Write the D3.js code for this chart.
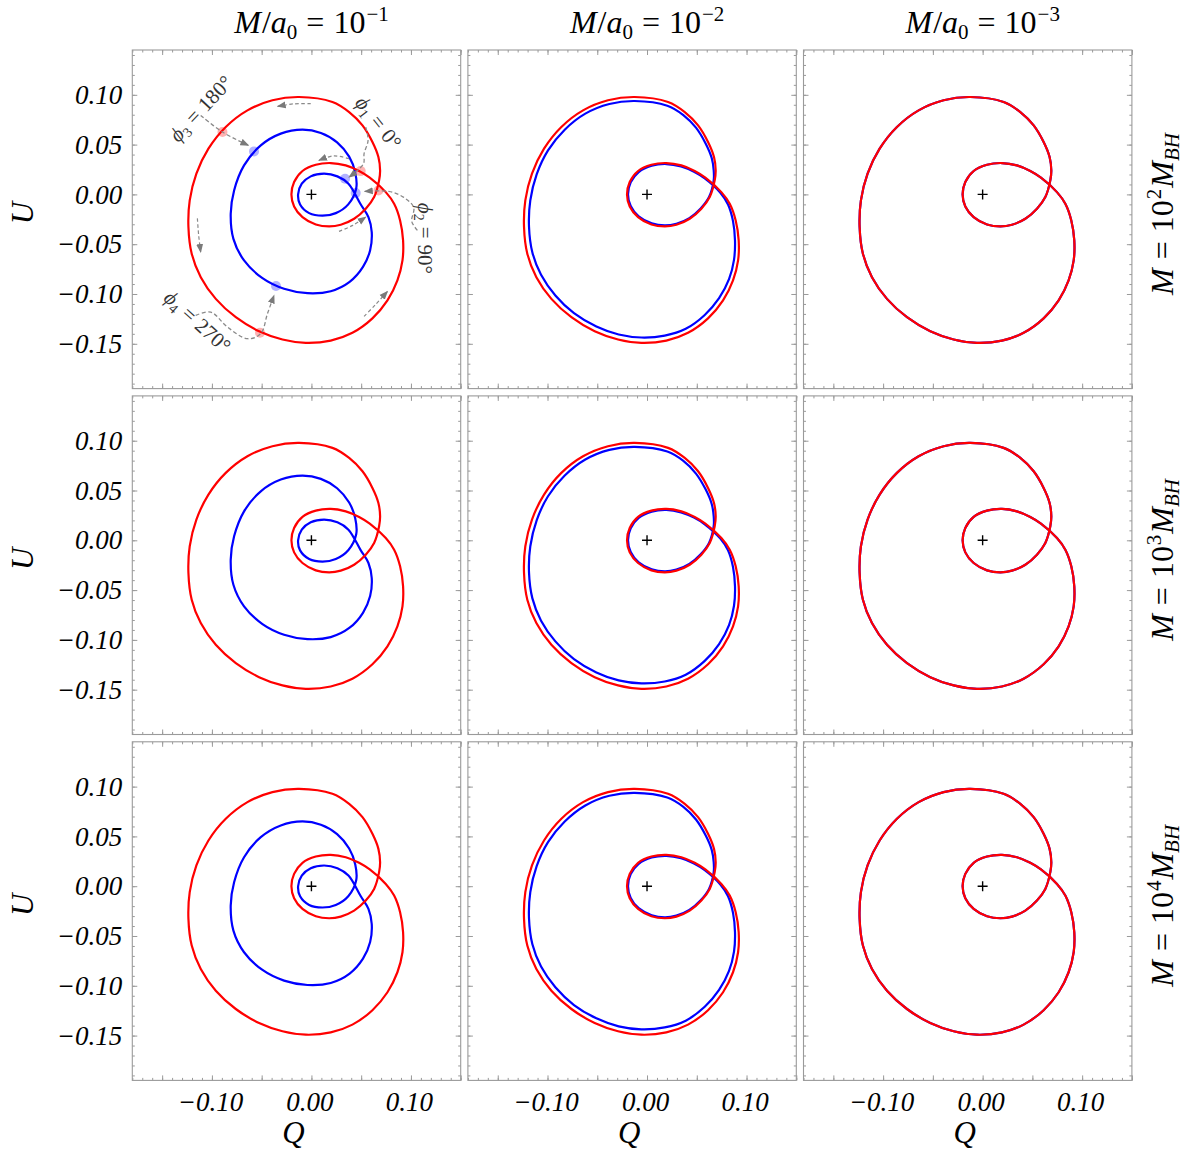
<!DOCTYPE html>
<html><head><meta charset="utf-8">
<script src="https://cdn.jsdelivr.net/npm/d3@7"></script>
<style>body{margin:0;background:#fff}</style>
</head><body>
<svg id="c" width="1190" height="1158"></svg>
<script>
// ---------------- data ----------------
const colExponents = ["−1", "−2", "−3"];          // M/a0 = 10^x
const rowExponents = ["2", "3", "4"];             // M = 10^x M_BH
const xTickLabels = [-0.10, 0.00, 0.10];
const yTickLabels = [0.10, 0.05, 0.00, -0.05, -0.10, -0.15];
const xMajorTicks = [-0.15, -0.10, -0.05, 0.00, 0.05, 0.10, 0.15];
const yMajorTicks = [-0.15, -0.10, -0.05, 0.00, 0.05, 0.10];

// red Q-U loop (same in every panel)
const redLoop = [
 [-0.0124,0.0978],[0.0211,0.0928],[0.0379,0.0827],[0.0513,0.0693],[0.0613,0.0526],[0.0673,0.0375],
 [0.0690,0.0241],[0.0680,0.0141],[0.0630,-0.0027],[0.0546,-0.0144],[0.0429,-0.0245],[0.0295,-0.0305],
 [0.0178,-0.0322],[0.0044,-0.0302],[-0.0090,-0.0228],[-0.0174,-0.0121],[-0.0201,0.0000],[-0.0174,0.0124],
 [-0.0090,0.0235],[0.0044,0.0298],[0.0194,0.0315],[0.0345,0.0291],[0.0479,0.0235],[0.0586,0.0168],
 [0.0747,0.0023],[0.0831,-0.0094],[0.0891,-0.0261],[0.0921,-0.0462],[0.0915,-0.0663],[0.0864,-0.0864],
 [0.0764,-0.1065],[0.0613,-0.1245],[0.0412,-0.1390],[0.0194,-0.1468],[-0.0057,-0.1491],[-0.0291,-0.1457],
 [-0.0526,-0.1374],[-0.0760,-0.1233],[-0.0961,-0.1049],[-0.1112,-0.0831],[-0.1203,-0.0596],[-0.1236,-0.0328],
 [-0.1223,-0.0060],[-0.1156,0.0208],[-0.1035,0.0459],[-0.0861,0.0677],[-0.0643,0.0844],[-0.0392,0.0945]
];
// blue loop, column M/a0 = 10^-1
const blueLoopCol1 = [
 [-0.0090,0.0650],[0.0095,0.0617],[0.0258,0.0523],[0.0379,0.0379],[0.0440,0.0221],[0.0450,0.0060],
 [0.0370,-0.0100],[0.0245,-0.0188],[0.0111,-0.0214],[-0.0023,-0.0188],[-0.0114,-0.0101],[-0.0134,0.0000],
 [-0.0097,0.0107],[-0.0007,0.0181],[0.0127,0.0208],[0.0261,0.0181],[0.0372,0.0107],[0.0496,-0.0101],
 [0.0573,-0.0228],[0.0606,-0.0379],[0.0590,-0.0560],[0.0518,-0.0728],[0.0384,-0.0878],[0.0194,-0.0972],
 [-0.0040,-0.0992],[-0.0275,-0.0948],[-0.0492,-0.0841],[-0.0677,-0.0663],[-0.0784,-0.0446],[-0.0811,-0.0194],
 [-0.0777,0.0040],[-0.0677,0.0291],[-0.0509,0.0492],[-0.0308,0.0610]
];
// blue loop, column M/a0 = 10^-2
const blueLoopCol2 = [
 [-0.0124,0.0938],[0.0204,0.0891],[0.0365,0.0797],[0.0492,0.0670],[0.0590,0.0509],[0.0650,0.0365],
 [0.0670,0.0241],[0.0670,0.0141],[0.0623,-0.0027],[0.0539,-0.0141],[0.0425,-0.0238],[0.0295,-0.0295],
 [0.0178,-0.0312],[0.0047,-0.0291],[-0.0084,-0.0221],[-0.0164,-0.0117],[-0.0191,0.0000],[-0.0164,0.0121],
 [-0.0084,0.0224],[0.0047,0.0288],[0.0194,0.0305],[0.0342,0.0281],[0.0472,0.0228],[0.0580,0.0161],
 [0.0737,0.0017],[0.0814,-0.0101],[0.0864,-0.0268],[0.0884,-0.0462],[0.0874,-0.0657],[0.0824,-0.0851],
 [0.0724,-0.1042],[0.0580,-0.1211],[0.0389,-0.1350],[0.0178,-0.1418],[-0.0057,-0.1437],[-0.0285,-0.1407],
 [-0.0509,-0.1327],[-0.0734,-0.1193],[-0.0921,-0.1015],[-0.1065,-0.0807],[-0.1152,-0.0583],[-0.1186,-0.0322],
 [-0.1173,-0.0060],[-0.1109,0.0201],[-0.0995,0.0442],[-0.0827,0.0650],[-0.0620,0.0811],[-0.0379,0.0908]
];
// blue loop, column M/a0 = 10^-3 : coincides with the red loop
const blueLoopCol3 = redLoop;
const blueLoops = [blueLoopCol1, blueLoopCol2, blueLoopCol3];

// phase markers (top-left panel)
const phaseNames = ["1", "2", "3", "4"];
const phaseAngles = ["0°", "90°", "180°", "270°"];
const redPhasePts = [[0.0495,0.0234],[0.0673,0.0040],[-0.0894,0.0626],[-0.0517,-0.1389]];
const bluePhasePts = [[0.0338,0.0158],[0.0445,0.0013],[-0.0577,0.0432],[-0.0356,-0.0920]];
const phaseLabelPos = [[0.0676,0.0723],[0.1149,-0.0442],[-0.1113,0.0863],[-0.1143,-0.1275]];
const phaseLabelRot = [52, 90, -47, 42];
const phaseArrows = [
 [[0.0546,0.0676],[0.0569,0.0542],[0.0529,0.0409],[0.0523,0.0308],[0.0378,0.0174]],
 [[0.1065,-0.0361],[0.1008,-0.0271],[0.1028,-0.0131],[0.0928,-0.0030],[0.0777,0.0030],[0.0536,0.0030]],
 [[-0.1113,0.0793],[-0.0894,0.0626],[-0.0633,0.0492]],
 [[-0.1163,-0.1215],[-0.1012,-0.1182],[-0.0844,-0.1332],[-0.0643,-0.1449],[-0.0510,-0.1399],[-0.0442,-0.1198],[-0.0376,-0.1014]]
];
// direction-of-travel arrows (top-left panel)
const flowArrows = [
 [[-0.0007,0.0911],[-0.0178,0.0909],[-0.0339,0.0884]],
 [[-0.1146,-0.0241],[-0.1133,-0.0412],[-0.1113,-0.0579]],
 [[0.0529,-0.1225],[0.0646,-0.1104],[0.0764,-0.0974]],
 [[0.0378,0.0358],[0.0224,0.0387],[0.0076,0.0341]],
 [[0.0277,-0.0371],[0.0415,-0.0311],[0.0546,-0.0228]]
];

// ---------------- layout ----------------
const svg = d3.select("#c");
const W = 328.4, H = 338.6;
const left0 = 132.3, colStep = 335.6, top0 = 50, rowStep = 345.9;
const x = d3.scaleLinear().domain([-0.18, 0.15]).range([0, W]);
const y = d3.scaleLinear().domain([-0.195, 0.145]).range([H, 0]);
const serif = "'Liberation Serif','Times New Roman',serif";
const frameCol = "#9a9a9a";
const fmt = d3.format(".2f");

const defs = svg.append("defs");
defs.append("marker").attr("id","ah").attr("viewBox","0 -4 9 8").attr("refX",8).attr("refY",0)
  .attr("markerWidth",9).attr("markerHeight",8).attr("markerUnits","userSpaceOnUse").attr("orient","auto")
  .append("path").attr("d","M0,-3.5L9,0L0,3.5Z").attr("fill","#7a7a7a");

const loopLine = d3.line().x(d => x(d[0])).y(d => y(d[1])).curve(d3.curveCatmullRomClosed.alpha(0.5));
const openLine = d3.line().x(d => x(d[0])).y(d => y(d[1])).curve(d3.curveCatmullRom.alpha(0.5));

const xMinor = d3.range(-18, 16).map(i => i / 100);
const yMinor = d3.range(-19, 15).map(i => i / 100);

function styleAxis(g) {
  g.select(".domain").remove();
  g.selectAll(".tick line").attr("stroke", frameCol).attr("stroke-width", 1);
}

for (let r = 0; r < 3; r++) {
  for (let c = 0; c < 3; c++) {
    const L = left0 + c * colStep, T = top0 + r * rowStep;
    const g = svg.append("g").attr("transform", `translate(${L},${T})`);

    // ticks on four sides, pointing inward
    const sides = [
      [d3.axisBottom(x), `translate(0,${H})`, xMajorTicks, xMinor],
      [d3.axisTop(x), `translate(0,0)`, xMajorTicks, xMinor],
      [d3.axisLeft(y), `translate(0,0)`, yMajorTicks, yMinor],
      [d3.axisRight(y), `translate(${W},0)`, yMajorTicks, yMinor]
    ];
    sides.forEach(([ax, tr, maj, min]) => {
      g.append("g").attr("transform", tr)
        .call(ax.tickValues(min).tickSize(-2.5).tickFormat("")).call(styleAxis);
      g.append("g").attr("transform", tr)
        .call(ax.tickValues(maj).tickSize(-5).tickFormat("")).call(styleAxis);
    });
    g.append("rect").attr("width", W).attr("height", H)
      .attr("fill", "none").attr("stroke", frameCol).attr("stroke-width", 1.1);

    // tick labels
    if (c === 0) {
      const a = g.append("g").call(d3.axisLeft(y).tickValues(yTickLabels).tickSize(0).tickPadding(10).tickFormat(fmt));
      a.select(".domain").remove();
      a.selectAll("text").attr("font-family", serif).attr("font-style", "italic")
        .attr("font-size", 27).attr("fill", "#000");
      g.append("text").attr("transform", `translate(${-99},${163}) rotate(-90)`)
        .attr("text-anchor", "middle").attr("font-family", serif).attr("font-style", "italic")
        .attr("font-size", 31).text("U");
    }
    if (r === 2) {
      const a = g.append("g").attr("transform", `translate(0,${H})`)
        .call(d3.axisBottom(x).tickValues(xTickLabels).tickSize(0).tickPadding(11).tickFormat(fmt));
      a.select(".domain").remove();
      a.selectAll("text").attr("font-family", serif).attr("font-style", "italic")
        .attr("font-size", 27).attr("fill", "#000").attr("dx", -2);
      g.append("text").attr("x", W / 2 - 3).attr("y", H + 63)
        .attr("text-anchor", "middle").attr("font-family", serif).attr("font-style", "italic")
        .attr("font-size", 31).text("Q");
    }

    // clip curves to the frame
    const cid = `clip${r}${c}`;
    defs.append("clipPath").attr("id", cid).append("rect").attr("width", W).attr("height", H);
    const pg = g.append("g").attr("clip-path", `url(#${cid})`);

    pg.append("path").attr("d", loopLine(blueLoops[c])).attr("fill", "none")
      .attr("stroke", "#0000ff").attr("stroke-width", 2.2);
    pg.append("path").attr("d", loopLine(redLoop)).attr("fill", "none")
      .attr("stroke", "#ff0000").attr("stroke-width", 2.2);

    // origin cross
    pg.append("path").attr("d", `M${x(0)-5},${y(0)}H${x(0)+5}M${x(0)},${y(0)-5}V${y(0)+5}`)
      .attr("stroke", "#000").attr("stroke-width", 1.4);

    if (r === 0 && c === 0) {
      // flow arrows
      flowArrows.forEach(p => {
        pg.append("path").attr("d", openLine(p)).attr("fill", "none").attr("stroke", "#8a8a8a")
          .attr("stroke-width", 1.2).attr("stroke-dasharray", "3.5,2.5").attr("marker-end", "url(#ah)");
      });
      // phase markers
      redPhasePts.forEach(p => pg.append("circle").attr("cx", x(p[0])).attr("cy", y(p[1])).attr("r", 5)
        .attr("fill", "#ff0000").attr("fill-opacity", 0.3));
      bluePhasePts.forEach(p => pg.append("circle").attr("cx", x(p[0])).attr("cy", y(p[1])).attr("r", 5)
        .attr("fill", "#0000ff").attr("fill-opacity", 0.3));
      // annotation arrows
      phaseArrows.forEach(p => {
        pg.append("path").attr("d", openLine(p)).attr("fill", "none").attr("stroke", "#8a8a8a")
          .attr("stroke-width", 1.3).attr("stroke-dasharray", "4,2.5").attr("marker-end", "url(#ah)");
      });
      // annotation labels
      phaseNames.forEach((n, i) => {
        const t = pg.append("text")
          .attr("transform", `translate(${x(phaseLabelPos[i][0])},${y(phaseLabelPos[i][1])}) rotate(${phaseLabelRot[i]})`)
          .attr("text-anchor", "middle").attr("dy", "0.35em").attr("font-family", serif)
          .attr("font-size", 21).attr("fill", "#333");
        t.append("tspan").attr("font-style", "italic").text("ϕ");
        t.append("tspan").attr("font-size", 14).attr("dy", 4).text(n);
        t.append("tspan").attr("dy", -4).attr("dx", 6).text("=");
        t.append("tspan").attr("dx", 6).text(phaseAngles[i]);
      });
    }

    // column titles
    if (r === 0) {
      const t = svg.append("text").attr("x", L + W / 2 + 15).attr("y", 33)
        .attr("text-anchor", "middle").attr("font-family", serif).attr("font-size", 32);
      t.append("tspan").attr("font-style", "italic").text("M");
      t.append("tspan").attr("dx", 1).text("/");
      t.append("tspan").attr("font-style", "italic").text("a");
      t.append("tspan").attr("font-size", 21).attr("dy", 6).text("0");
      t.append("tspan").attr("dy", -6).attr("dx", 9).text("=");
      t.append("tspan").attr("dx", 9).text("10");
      t.append("tspan").attr("font-size", 21).attr("dy", -12).attr("dx", 1).text(colExponents[c]);
    }
    // row labels
    if (c === 2) {
      const t = svg.append("text").attr("transform", `translate(${L + W + 41},${T + 164}) rotate(-90)`)
        .attr("text-anchor", "middle").attr("font-family", serif).attr("font-size", 32);
      t.append("tspan").attr("font-style", "italic").text("M");
      t.append("tspan").attr("dx", 9).text("=");
      t.append("tspan").attr("dx", 9).text("10");
      t.append("tspan").attr("font-size", 21).attr("dy", -12).attr("dx", 1).text(rowExponents[r]);
      t.append("tspan").attr("dy", 12).attr("dx", 1).attr("font-style", "italic").text("M");
      t.append("tspan").attr("font-size", 21).attr("dy", 6).attr("font-style", "italic").text("BH");
    }
  }
}
</script>
</body></html>
